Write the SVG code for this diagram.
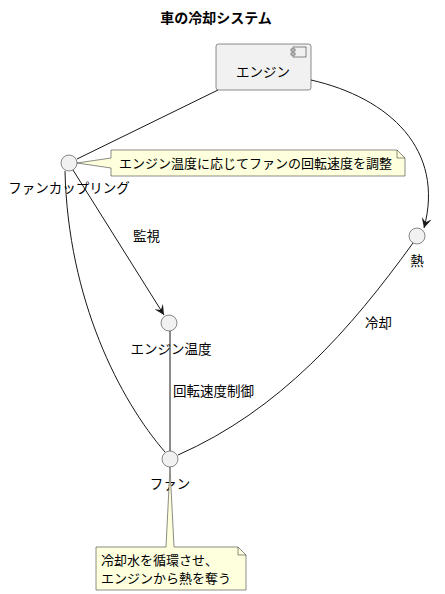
<svg xmlns="http://www.w3.org/2000/svg" width="445" height="594" viewBox="0 0 445 594">
<defs>
<style>
text{font-family:"Noto Sans CJK JP","Liberation Sans",sans-serif;fill:#000;}
.t{font-size:13.5px;}
.n{font-size:13px;}
.title{font-size:14px;font-weight:bold;}
.node{fill:#F1F1F1;stroke:#181818;stroke-width:0.5;}
.note{fill:#FEFFDD;stroke:#181818;stroke-width:0.5;}
.edge{fill:none;stroke:#181818;stroke-width:1;}
</style>
<marker id="arr" viewBox="0 0 12 10" refX="10" refY="5" markerWidth="12" markerHeight="10" markerUnits="userSpaceOnUse" orient="auto">
<path d="M0,0 L10,5 L0,10 L4,5 Z" fill="#181818"/>
</marker>
</defs>
<rect width="445" height="594" fill="#fff"/>
<text class="title" x="216" y="23" text-anchor="middle">車の冷却システム</text>

<g id="connectors">
<path class="edge" d="M218,90 L77,159"/>
<path class="edge" d="M311,80 C390,98 445,150 424,228" marker-end="url(#arr)"/>
<path class="edge" d="M73,170 L164,315" marker-end="url(#arr)"/>
<text class="t" x="133" y="241">監視</text>
<path class="edge" d="M65,171 C68,300 120,400 165,452"/>
<path class="edge" d="M170,331 L170,451"/>
<text class="t" x="173" y="396">回転速度制御</text>
<path class="edge" d="M413,243 C350,330 280,410 178,455"/>
<text class="t" x="365" y="328">冷却</text>
</g>

<g id="engine">
<rect class="node" x="216" y="44" width="95" height="46" rx="2.5"/>
<rect x="293" y="47" width="13" height="10" fill="#F1F1F1" stroke="#181818" stroke-width="0.5"/>
<rect x="291" y="49" width="4" height="2" fill="#F1F1F1" stroke="#181818" stroke-width="0.5"/>
<rect x="291" y="53" width="4" height="2" fill="#F1F1F1" stroke="#181818" stroke-width="0.5"/>
<text class="t" x="263" y="77" text-anchor="middle" font-size="14">エンジン</text>
</g>

<g id="fancoupling">
<circle class="node" cx="69" cy="163" r="8"/>
<text class="t" x="69" y="193" text-anchor="middle" font-size="14">ファンカップリング</text>
</g>

<g id="note1">
<path class="note" d="M77,163 L111,158 L111,150 L397,150 L405,158 L405,176 L111,176 L111,168 Z"/>
<path d="M397,150 L397,158 L405,158" fill="none" stroke="#181818" stroke-width="0.5"/>
<text class="n" x="119" y="168">エンジン温度に応じてファンの回転速度を調整</text>
</g>

<g id="heat">
<circle class="node" cx="417" cy="236" r="8"/>
<text class="t" x="417" y="266" text-anchor="middle" font-size="14">熱</text>
</g>

<g id="enginetemp">
<circle class="node" cx="169" cy="323" r="8"/>
<text class="t" x="171" y="354" text-anchor="middle" font-size="14">エンジン温度</text>
</g>

<g id="fan">
<circle class="node" cx="170" cy="459" r="8"/>
<text class="t" x="170" y="489" text-anchor="middle" font-size="14">ファン</text>
</g>

<g id="note2">
<path class="note" d="M96,547 L166,547 L170,467 L174,547 L238,547 L246,555 L246,590 L96,590 Z"/>
<path d="M238,547 L238,555 L246,555" fill="none" stroke="#181818" stroke-width="0.5"/>
<text class="n" x="101" y="565">冷却水を循環させ、</text>
<text class="n" x="101" y="583">エンジンから熱を奪う</text>
</g>
</svg>
